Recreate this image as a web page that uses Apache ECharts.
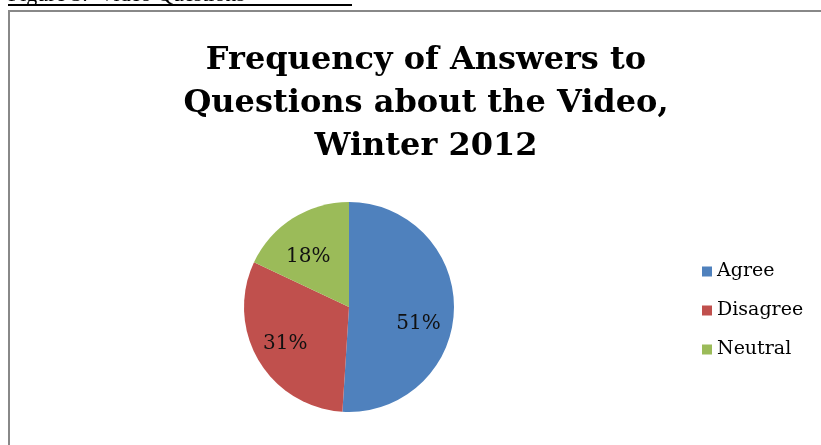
<!DOCTYPE html>
<html>
<head>
<meta charset="utf-8">
<script src="https://cdn.jsdelivr.net/npm/echarts@6/dist/echarts.min.js"></script>
<style>
  html, body { margin: 0; padding: 0; background: #fff; }
  #main { width: 821px; height: 445px; }
</style>
</head>
<body>
<div id="main"></div>
<script>
    // data
    var answers = ['Agree', 'Disagree', 'Neutral'];
    var shares = [51, 31, 18];
    var sliceColors = ['#4F81BD', '#C0504D', '#9BBB59'];
    // labels sit a bit off the mid-radius in the original (tilted Excel pie)
    var labelShift = [[14, 15], [-16, 9], [-11, -3]];

    var myChart = echarts.init(document.getElementById('main'));

    var pieData = [];
    for (var i = 0; i < answers.length; i++) {
        pieData.push({
            name: answers[i],
            value: shares[i],
            itemStyle: { color: sliceColors[i] },
            label: { offset: labelShift[i] }
        });
    }

    var option = {
        backgroundColor: '#fff',
        animation: false,
        title: {
            text: 'Frequency of Answers to\nQuestions about the Video,\nWinter 2012',
            left: 421,
            top: 34,
            textAlign: 'center',
            textStyle: {
                fontFamily: 'DejaVu Serif',
                fontWeight: 'bold',
                fontSize: 32,
                lineHeight: 43,
                color: '#000'
            }
        },
        legend: {
            orient: 'vertical',
            left: 697,
            top: 257,
            itemWidth: 10,
            itemHeight: 10,
            itemGap: 20,
            icon: 'rect',
            data: answers,
            textStyle: {
                fontFamily: 'DejaVu Serif',
                fontSize: 19,
                color: '#000',
                padding: [0, 0, 0, 0]
            }
        },
        graphic: [
            {
                type: 'text',
                left: 8,
                top: -16,
                style: {
                    text: 'Figure 5:  Video Questions',
                    font: '22px "Liberation Serif"',
                    fill: '#000'
                }
            },
            {
                type: 'rect',
                shape: { x: 8, y: 4, width: 344, height: 2 },
                style: { fill: '#000' }
            },
            {
                type: 'polyline',
                shape: { points: [[9, 445], [9, 11], [821, 11]] },
                style: { stroke: '#888', lineWidth: 2, fill: null }
            }
        ],
        series: [
            {
                type: 'pie',
                center: [349, 307],
                radius: 105,
                startAngle: 90,
                clockwise: true,
                data: pieData,
                itemStyle: { borderWidth: 0 },
                label: {
                    position: 'inside',
                    formatter: '{d}%',
                    fontFamily: 'DejaVu Serif',
                    fontSize: 20,
                    color: '#111'
                },
                labelLine: { show: false }
            }
        ]
    };

    myChart.setOption(option);

    window.onresize = function () {
        myChart.resize();
    };
</script>
</body>
</html>
